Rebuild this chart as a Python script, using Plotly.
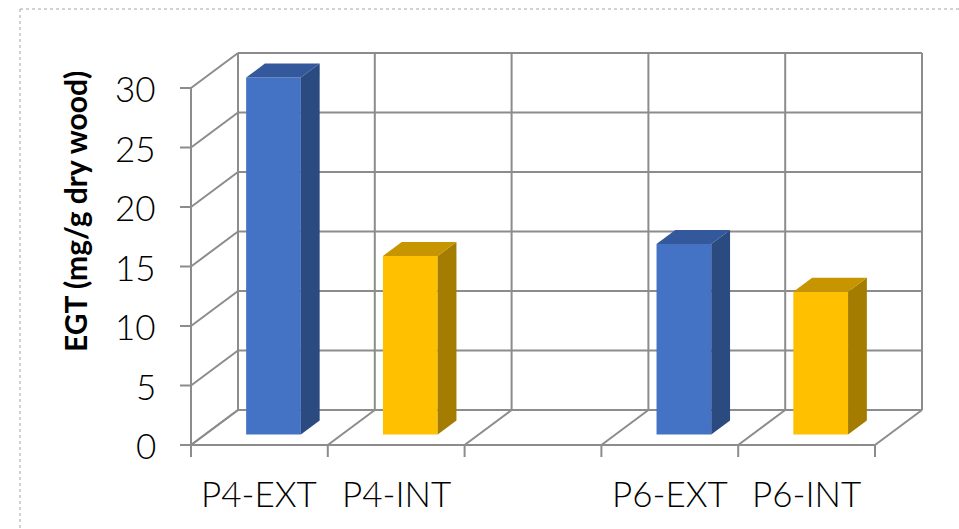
import plotly.graph_objects as go

# ---- data -------------------------------------------------------------
categories = ["P4-EXT", "P4-INT", "", "P6-EXT", "P6-INT"]
egt_values = [30, 15, None, 16, 12]          # mg/g dry wood
sample_side = ["EXT", "INT", None, "EXT", "INT"]
y_ticks = [0, 5, 10, 15, 20, 25, 30]
y_title = "EGT (mg/g dry wood)"

# ---- styling ------------------------------------------------------------
W, H = 959, 529
FONT = "Lato"
GRID = "#8c8c8c"
FACE = {  # front, top, side
    "EXT": ("#4472C4", "#34589C", "#2B4A80"),
    "INT": ("#FFC000", "#C69500", "#A47C00"),
}

# pixel geometry of the oblique 3-D box
PX_X0, UNIT_X = 191.0, 136.8       # front-left corner, px per category
PX_Y0, UNIT_Y = 445.0, 11.9        # floor line, px per unit value
DEPTH_X = 47.0 / UNIT_X            # depth shift in category units
DEPTH_Y = 35.0 / UNIT_Y            # depth shift in value units
BAR_W = 0.4
D_FRONT, D_BACK = 0.3, 0.7

n_cat = len(categories)
y_top = y_ticks[-1]


def proj(x, v, d):
    """Oblique projection of (category x, value v, depth d) to plot coords."""
    return x + d * DEPTH_X, v + d * DEPTH_Y


shapes = []


def seg(p, q, **kw):
    shapes.append(dict(type="line", xref="x", yref="y", layer="below",
                       x0=p[0], y0=p[1], x1=q[0], y1=q[1],
                       line=dict(color=GRID, width=2), **kw))


# back wall
for v in y_ticks:
    seg(proj(0, v, 1), proj(n_cat, v, 1))
for i in range(n_cat + 1):
    seg(proj(i, 0, 1), proj(i, y_top, 1))
# side wall
for v in y_ticks:
    seg(proj(0, v, 0), proj(0, v, 1))
seg(proj(0, 0, 0), proj(0, y_top, 0))
# floor
for i in range(n_cat + 1):
    seg(proj(i, 0, 0), proj(i, 0, 1))
seg(proj(-11 / UNIT_X, 0, 0), proj(n_cat, 0, 0))
# tick marks
for v in y_ticks:
    seg((-11 / UNIT_X, v), (0, v))
for i in range(n_cat + 1):
    seg((i, 0), (i, -12 / UNIT_Y))

# chart frame (dotted)
fx, fy = 20 / W, 1 - 9 / H
shapes.append(dict(type="line", xref="paper", yref="paper", x0=fx, y0=fy, x1=1, y1=fy,
                   line=dict(color="#a6a6a6", width=1, dash="dot")))
shapes.append(dict(type="line", xref="paper", yref="paper", x0=fx, y0=fy, x1=fx, y1=0,
                   line=dict(color="#a6a6a6", width=1, dash="dot")))

fig = go.Figure()

for i, (val, side) in enumerate(zip(egt_values, sample_side)):
    if val is None:
        continue
    front, top, right = FACE[side]
    xc = i + 0.5
    xl, xr = xc - BAR_W / 2, xc + BAR_W / 2
    # front face
    fig.add_trace(go.Bar(x=[proj(xc, 0, D_FRONT)[0]], y=[val],
                         base=[D_FRONT * DEPTH_Y], width=[BAR_W],
                         marker=dict(color=front, line=dict(width=0)),
                         hoverinfo="skip"))
    # side face
    pts = [proj(xr, 0, D_FRONT), proj(xr, 0, D_BACK),
           proj(xr, val, D_BACK), proj(xr, val, D_FRONT)]
    fig.add_trace(go.Scatter(x=[p[0] for p in pts], y=[p[1] for p in pts],
                             fill="toself", fillcolor=right, mode="lines",
                             line=dict(width=0, color=right), hoverinfo="skip"))
    # top face
    pts = [proj(xl, val, D_FRONT), proj(xr, val, D_FRONT),
           proj(xr, val, D_BACK), proj(xl, val, D_BACK)]
    fig.add_trace(go.Scatter(x=[p[0] for p in pts], y=[p[1] for p in pts],
                             fill="toself", fillcolor=top, mode="lines",
                             line=dict(width=0, color=top), hoverinfo="skip"))

label_font = dict(family=FONT, size=35, color="#000000", weight=300)
annotations = []
for v in y_ticks:
    annotations.append(dict(x=-33 / UNIT_X, y=v, xref="x", yref="y", text=str(v),
                            showarrow=False, xanchor="right", yanchor="middle",
                            font=label_font))
for i, c in enumerate(categories):
    if c:
        annotations.append(dict(x=i + 0.5, y=-48 / UNIT_Y, xref="x", yref="y", text=c,
                                showarrow=False, xanchor="center", yanchor="middle",
                                font=label_font))
annotations.append(dict(x=(75 - PX_X0) / UNIT_X, y=(PX_Y0 - 212) / UNIT_Y,
                        xref="x", yref="y", text="<b>" + y_title + "</b>",
                        textangle=-90, showarrow=False, xanchor="center", yanchor="middle",
                        font=dict(family=FONT, size=30, color="#000000")))

fig.update_layout(
    width=W, height=H, margin=dict(l=0, r=0, t=0, b=0),
    paper_bgcolor="white", plot_bgcolor="white",
    showlegend=False, barmode="overlay",
    xaxis=dict(range=[-PX_X0 / UNIT_X, (W - PX_X0) / UNIT_X], visible=False, fixedrange=True),
    yaxis=dict(range=[-(H - PX_Y0) / UNIT_Y, PX_Y0 / UNIT_Y], visible=False, fixedrange=True),
    shapes=shapes, annotations=annotations,
)

fig.write_html("out.html")
